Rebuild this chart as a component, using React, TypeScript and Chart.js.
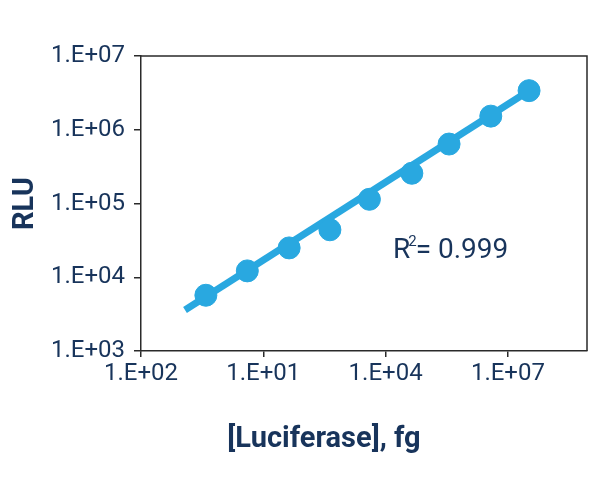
import React, { useEffect, useRef } from "react";
import { Chart, registerables } from "chart.js";

Chart.register(...registerables);

const luciferaseFg = [0.39, 4.05, 43, 430, 4000, 44000, 360000, 3.8e6, 3.3e7];
const rluValues = [5700, 12200, 25000, 44000, 114000, 257000, 640000, 1530000, 3390000];
const fitX = [0.12, 3.3e7];
const fitY = [3600, 3380000];
const xTickValues = [1e-2, 1e1, 1e4, 1e7];
const xTickLabels = ["1.E+02", "1.E+01", "1.E+04", "1.E+07"];
const yTickValues = [1e3, 1e4, 1e5, 1e6, 1e7];
const yTickLabels = ["1.E+03", "1.E+04", "1.E+05", "1.E+06", "1.E+07"];
const xTitle = "[Luciferase], fg";
const yTitle = "RLU";
const r2Label = { base: "R", sup: "2", rest: "= 0.999" };

const BLUE = "#29a8e0";
const NAVY = "#18345b";
const AXIS = "#2a2a2a";
const FONT = "Roboto, 'Open Sans', sans-serif";

export default function App() {
  const ref = useRef<HTMLCanvasElement | null>(null);

  useEffect(() => {
    document.body.style.margin = "0";
    const canvas = ref.current;
    if (!canvas) return;

    const framePlugin = {
      id: "frame",
      afterDraw(chart: any) {
        const { ctx, chartArea } = chart;
        ctx.save();
        ctx.strokeStyle = AXIS;
        ctx.lineWidth = 1.5;
        ctx.beginPath();
        ctx.moveTo(chartArea.left, chartArea.top);
        ctx.lineTo(chartArea.right, chartArea.top);
        ctx.lineTo(chartArea.right, chartArea.bottom);
        ctx.stroke();
        // x-axis title, centred on the canvas like the reference
        ctx.fillStyle = NAVY;
        ctx.textAlign = "center";
        ctx.textBaseline = "middle";
        ctx.font = `bold 29px ${FONT}`;
        ctx.fillText(xTitle, 324, 440);
        // R² annotation
        const x = chartArea.left + (chartArea.right - chartArea.left) * 0.565;
        const y = chartArea.top + (chartArea.bottom - chartArea.top) * 0.685;
        ctx.textBaseline = "alphabetic";
        ctx.textAlign = "left";
        ctx.font = `28px ${FONT}`;
        ctx.fillText(r2Label.base, x, y);
        const w1 = ctx.measureText(r2Label.base).width;
        ctx.font = `15px ${FONT}`;
        ctx.fillText(r2Label.sup, x + w1 - 2, y - 12);
        const w2 = ctx.measureText(r2Label.sup).width;
        ctx.font = `28px ${FONT}`;
        ctx.fillText(r2Label.rest, x + w1 - 2 + w2 - 1, y);
        ctx.restore();
      },
    };

    const chart = new Chart(canvas, {
      type: "scatter",
      data: {
        datasets: [
          {
            type: "scatter",
            label: "RLU",
            data: luciferaseFg.map((v, i) => ({ x: v, y: rluValues[i] })),
            backgroundColor: BLUE,
            borderColor: BLUE,
            pointRadius: 11,
            pointHoverRadius: 11,
          },
          {
            type: "line",
            label: "Fit",
            data: fitX.map((v, i) => ({ x: v, y: fitY[i] })),
            borderColor: BLUE,
            borderWidth: 7,
            pointRadius: 0,
            fill: false,
          } as any,
        ],
      },
      options: {
        responsive: false,
        animation: false,
        layout: { padding: { left: 0, top: 56, right: 21, bottom: 0 } },
        plugins: { legend: { display: false }, tooltip: { enabled: false } },
        scales: {
          x: {
            type: "logarithmic",
            min: 1e-2,
            max: 8.7e8,
            afterBuildTicks: (scale: any) => {
              scale.ticks = xTickValues.map((v) => ({ value: v }));
            },
            afterFit: (scale: any) => {
              scale.height = 135;
            },
            ticks: {
              color: NAVY,
              font: { family: FONT, size: 24 },
              padding: 3,
              maxRotation: 0,
              autoSkip: false,
              callback: (_v: any, i: number) => xTickLabels[i],
            },
            grid: { drawOnChartArea: false, drawTicks: true, tickLength: 6, color: AXIS, lineWidth: 1.5 },
            border: { display: true, color: AXIS, width: 1.5 },
            title: { display: false },
          },
          y: {
            type: "logarithmic",
            min: 1e3,
            max: 1e7,
            afterBuildTicks: (scale: any) => {
              scale.ticks = yTickValues.map((v) => ({ value: v }));
            },
            afterFit: (scale: any) => {
              scale.width = 141;
            },
            ticks: {
              color: NAVY,
              font: { family: FONT, size: 24 },
              padding: 9,
              autoSkip: false,
              callback: (_v: any, i: number) => yTickLabels[i],
            },
            grid: { drawOnChartArea: false, drawTicks: true, tickLength: 7, color: AXIS, lineWidth: 1.5 },
            border: { display: true, color: AXIS, width: 1.5 },
            title: {
              display: true,
              text: yTitle,
              color: NAVY,
              font: { family: FONT, size: 29, weight: "bold" },
              padding: { top: 8, bottom: 0 },
            },
          },
        },
      },
      plugins: [framePlugin],
    });

    return () => chart.destroy();
  }, []);

  return (
    <div style={{ position: "absolute", left: 0, top: 0, width: 608, height: 486, background: "#fff" }}>
      <canvas ref={ref} width={608} height={486} style={{ display: "block" }} />
    </div>
  );
}
